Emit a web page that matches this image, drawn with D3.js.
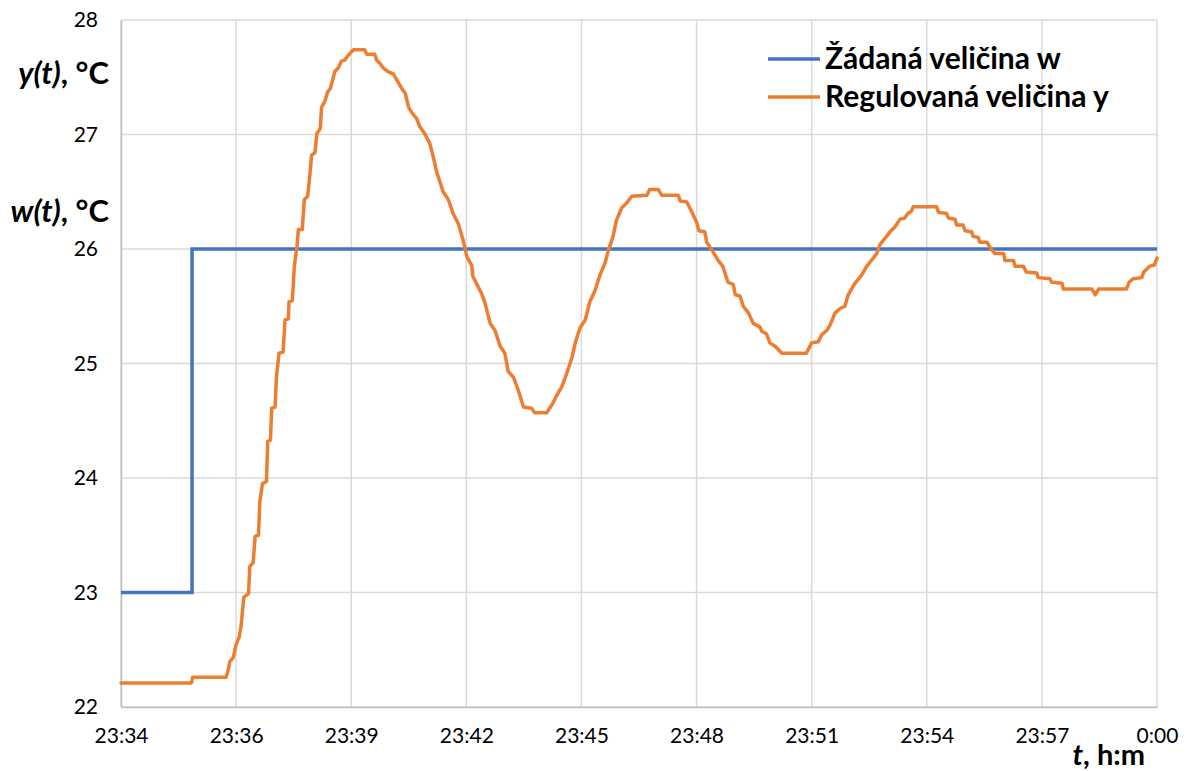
<!DOCTYPE html>
<html>
<head>
<meta charset="utf-8">
<script src="https://cdn.jsdelivr.net/npm/d3@7"></script>
<style>
  body { margin: 0; background: #fff; }
  svg { display: block; font-family: Lato, "Open Sans", sans-serif; }
</style>
</head>
<body>
<svg id="chart" width="1191" height="771"></svg>
<script>
// Logged run: setpoint step and measured temperature, seconds after 23:34:00
const startClock = [23, 34, 0];
const spanSeconds = 1560;

const xTickLabels = ["23:34", "23:36", "23:39", "23:42", "23:45", "23:48", "23:51", "23:54", "23:57", "0:00"];
const yTicks = [22, 23, 24, 25, 26, 27, 28];

// Setpoint w(t)
const setpointTimes = [0, 107, 1560];
const setpointValues = [23, 26, 26];

// Controlled variable y(t)
const measuredTimes = [
  0,106,108,158,161,164,169,173,178,181,
  185,192,194,199,202,207,209,213,219,221,
  225,227,232,234,238,244,247,252,253,258,
  261,265,267,273,276,281,284,287,292,295,
  300,302,307,311,315,318,322,327,332,337,
  342,350,367,370,382,385,390,395,402,410,
  417,423,428,433,438,445,450,458,465,470,
  475,480,485,493,500,508,515,521,528,530,
  536,543,548,556,563,571,578,583,591,598,
  606,618,623,641,649,656,664,671,679,684,
  691,699,706,714,721,729,734,741,746,754,
  761,769,792,796,809,814,839,842,852,859,
  867,870,879,882,891,899,906,914,922,925,
  932,937,945,952,962,965,972,977,985,995,
  1032,1040,1050,1055,1063,1068,1075,1083,1090,1095,
  1105,1115,1123,1130,1138,1143,1150,1158,1165,1173,
  1180,1185,1190,1193,1228,1231,1243,1246,1256,1258,
  1268,1271,1281,1283,1291,1293,1304,1309,1316,1329,
  1331,1344,1346,1359,1363,1379,1381,1399,1401,1417,
  1419,1462,1467,1472,1514,1518,1524,1537,1540,1549,
  1556,1560
];
const measuredValues = [
  22.21,22.21,22.26,22.26,22.31,22.40,22.43,22.54,22.61,22.72,
  22.96,22.99,23.23,23.26,23.49,23.50,23.79,23.95,23.97,24.32,
  24.33,24.61,24.62,24.88,25.09,25.10,25.38,25.39,25.54,25.55,
  25.85,26.02,26.17,26.17,26.43,26.46,26.62,26.82,26.84,27.01,
  27.05,27.24,27.29,27.37,27.40,27.46,27.55,27.58,27.64,27.65,
  27.69,27.74,27.74,27.70,27.70,27.65,27.62,27.58,27.55,27.53,
  27.46,27.40,27.36,27.24,27.19,27.14,27.07,27.00,26.92,26.81,
  26.68,26.59,26.50,26.43,26.31,26.22,26.08,25.93,25.86,25.76,
  25.69,25.61,25.53,25.35,25.29,25.15,25.09,24.93,24.88,24.77,
  24.62,24.61,24.57,24.57,24.64,24.72,24.80,24.91,25.05,25.18,
  25.31,25.38,25.54,25.64,25.77,25.88,25.99,26.11,26.25,26.36,
  26.40,26.46,26.47,26.52,26.52,26.47,26.47,26.42,26.41,26.33,
  26.23,26.16,26.15,26.06,25.98,25.90,25.85,25.71,25.69,25.60,
  25.59,25.50,25.44,25.35,25.32,25.28,25.26,25.18,25.15,25.09,
  25.09,25.18,25.19,25.25,25.29,25.34,25.44,25.48,25.50,25.60,
  25.70,25.77,25.85,25.90,25.96,26.04,26.09,26.15,26.19,26.26,
  26.27,26.31,26.33,26.37,26.37,26.32,26.31,26.27,26.26,26.21,
  26.21,26.16,26.15,26.11,26.10,26.06,26.06,26.01,25.96,25.96,
  25.90,25.90,25.85,25.85,25.80,25.79,25.75,25.74,25.71,25.70,
  25.65,25.65,25.60,25.65,25.65,25.71,25.74,25.75,25.80,25.85,
  25.86,25.92
];

const seriesNames = ["Žádaná veličina w", "Regulovaná veličina y"];
const seriesColors = ["#4472C4", "#ED7D31"];

// ---- layout ----
const plot = { left: 121, right: 1157, top: 20, bottom: 707 };
const t0 = new Date(2000, 0, 1, startClock[0], startClock[1], startClock[2]);
const toDate = s => new Date(t0.getTime() + s * 1000);

const x = d3.scaleTime()
  .domain([t0, toDate(spanSeconds)])
  .range([plot.left, plot.right]);
const y = d3.scaleLinear()
  .domain([d3.min(yTicks), d3.max(yTicks)])
  .range([plot.bottom, plot.top]);

const xTickDates = xTickLabels.map((_, i) => toDate(i * spanSeconds / (xTickLabels.length - 1)));

const svg = d3.select("#chart");

// gridlines
const grid = svg.append("g").attr("stroke", "#D9D9D9").attr("stroke-width", 1.5);
grid.selectAll("line.h").data(yTicks).join("line").attr("class", "h")
  .attr("x1", plot.left).attr("x2", plot.right)
  .attr("y1", d => y(d)).attr("y2", d => y(d));
grid.selectAll("line.v").data(xTickDates).join("line").attr("class", "v")
  .attr("x1", d => x(d)).attr("x2", d => x(d))
  .attr("y1", plot.top).attr("y2", plot.bottom);

// axes
const xAxis = d3.axisBottom(x)
  .tickValues(xTickDates)
  .tickFormat((d, i) => xTickLabels[i])
  .tickSize(0).tickPadding(21);
const yAxis = d3.axisLeft(y)
  .tickValues(yTicks)
  .tickFormat(d3.format("d"))
  .tickSize(0).tickPadding(23);

const gx = svg.append("g").attr("transform", `translate(0,${plot.bottom})`).call(xAxis);
const gy = svg.append("g").attr("transform", `translate(${plot.left},0)`).call(yAxis);
[gx, gy].forEach(g => {
  g.select(".domain").attr("stroke", "#BFBFBF").attr("stroke-width", 1.5);
  g.selectAll("text").attr("font-family", "Lato, sans-serif").attr("font-size", 21).attr("fill", "#000");
});

// series
const setpoint = setpointTimes.map((s, i) => [toDate(s), setpointValues[i]]);
const measured = measuredTimes.map((s, i) => [toDate(s), measuredValues[i]]);

svg.append("path").datum(setpoint)
  .attr("fill", "none").attr("stroke", seriesColors[0]).attr("stroke-width", 3.5)
  .attr("d", d3.line().x(d => x(d[0])).y(d => y(d[1])).curve(d3.curveStepAfter));

svg.append("path").datum(measured)
  .attr("fill", "none").attr("stroke", seriesColors[1]).attr("stroke-width", 3.5)
  .attr("stroke-linejoin", "round").attr("stroke-linecap", "round")
  .attr("d", d3.line().x(d => x(d[0])).y(d => y(d[1])));

// legend
const legend = svg.append("g").attr("transform", "translate(768,59)");
seriesNames.forEach((name, i) => {
  const row = legend.append("g").attr("transform", `translate(0,${i * 38})`);
  row.append("line").attr("x1", 0).attr("x2", 52).attr("y1", 0).attr("y2", 0)
    .attr("stroke", seriesColors[i]).attr("stroke-width", 3.5);
  row.append("text").attr("x", 57).attr("y", 10)
    .attr("font-size", 30).attr("font-weight", 700).attr("fill", "#000")
    .text(name);
});

// axis titles
function title(xPos, yPos, italicPart, rest, anchor, size) {
  const t = svg.append("text").attr("x", xPos).attr("y", yPos)
    .attr("text-anchor", anchor).attr("font-size", size).attr("font-weight", 700).attr("fill", "#000");
  t.append("tspan").attr("font-style", "italic").text(italicPart);
  t.append("tspan").text(rest);
}
title(109, 84, "y(t)", ", °C", "end", 31);
title(109, 222, "w(t)", ", °C", "end", 31);
title(1145, 765, "t", ", h:m", "end", 29);
</script>
</body>
</html>
